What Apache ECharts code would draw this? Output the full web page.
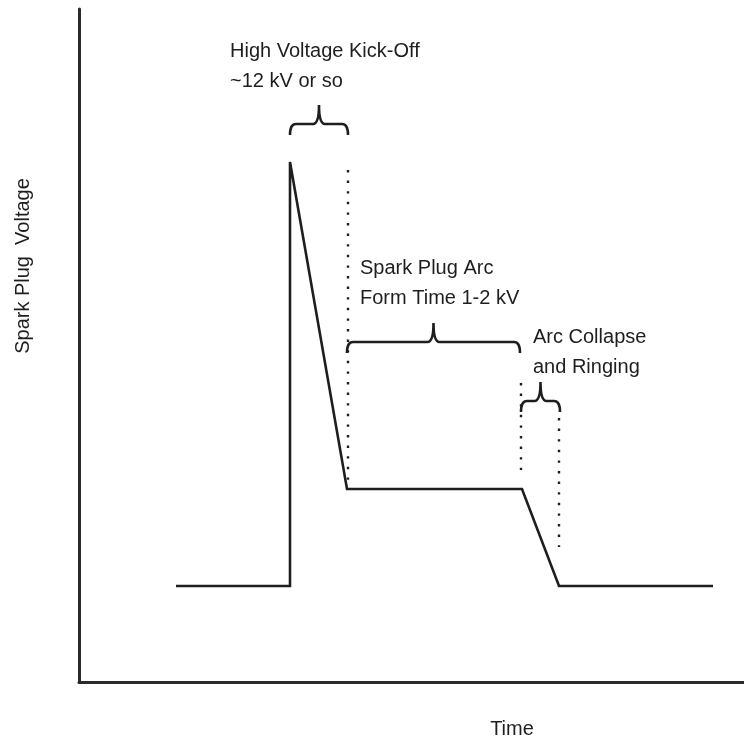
<!DOCTYPE html>
<html>
<head>
<meta charset="utf-8">
<script src="https://cdn.jsdelivr.net/npm/echarts@6/dist/echarts.min.js"></script>
<style>html,body{margin:0;padding:0;background:#fff}#c{width:744px;height:740px}</style>
</head>
<body>
<div id="c"></div>
<script>
// Signal trace (arbitrary time / voltage units)
const signalX = [97, 211, 211, 268, 443, 480, 634];
const signalY = [96, 96, 520, 193, 193, 96, 96];
// Dotted guide lines
const guideX = [269, 442, 480];
const guideTop = [512, 299, 264];
const guideBottom = [197, 212, 135];
// Braces
const braceStart = [211, 268, 442];
const braceEnd = [269, 441, 481];
const braceLevel = [558, 340, 281];
const braceTip = [577, 359, 300];
// Texts
const annotationLines = [
  ['High Voltage Kick-Off', '~12 kV or so'],
  ['Spark Plug Arc', 'Form Time 1-2 kV'],
  ['Arc Collapse', 'and Ringing']
];
const xTitle = 'Time';
const yTitle = 'Spark Plug  Voltage';

const chart = echarts.init(document.getElementById('c'), null, {renderer: 'canvas'});
const INK = '#1e1e1e';
const FONT = '20px "Liberation Sans", Arial, sans-serif';

const signalData = signalX.map((x, i) => [x, signalY[i]]);
const guideData = guideX.map((x, i) => [x, guideTop[i], guideBottom[i]]);
const braceData = braceStart.map((s, i) => [s, braceEnd[i], braceLevel[i], braceTip[i]]);

const annotPos = [[230, 51], [360, 268], [533, 337]];
const graphics = [];
annotationLines.forEach((lines, i) => {
  lines.forEach((t, j) => {
    graphics.push({type: 'text', x: annotPos[i][0], y: annotPos[i][1] + j * 30,
      style: {text: t, font: FONT, fill: INK, textAlign: 'left', textVerticalAlign: 'middle'}});
  });
});
graphics.push({type: 'text', x: 512, y: 729,
  style: {text: xTitle, font: FONT, fill: INK, textAlign: 'center', textVerticalAlign: 'middle'}});
graphics.push({type: 'text', x: 23, y: 266, rotation: Math.PI / 2,
  style: {text: yTitle, font: FONT, fill: INK, textAlign: 'center', textVerticalAlign: 'middle'}});

chart.setOption({
  animation: false,
  backgroundColor: '#fff',
  grid: {left: 79, right: 0, top: 9, bottom: 58},
  xAxis: {type: 'value', min: 0, max: 665,
    axisLine: {show: true, lineStyle: {color: '#2a2a2a', width: 3}},
    axisTick: {show: false}, axisLabel: {show: false}, splitLine: {show: false}},
  yAxis: {type: 'value', min: 0, max: 673,
    axisLine: {show: true, lineStyle: {color: '#2a2a2a', width: 3}},
    axisTick: {show: false}, axisLabel: {show: false}, splitLine: {show: false}},
  graphic: graphics,
  series: [
    {type: 'line', data: signalData, showSymbol: false, symbol: 'none',
      lineStyle: {color: INK, width: 2.6, join: 'miter', miterLimit: 3}},
    {type: 'custom', data: guideData,
      renderItem: function (params, api) {
        const a = api.coord([api.value(0), api.value(1)]);
        const b = api.coord([api.value(0), api.value(2)]);
        return {type: 'line', shape: {x1: a[0], y1: a[1], x2: b[0], y2: b[1]},
          style: {stroke: INK, lineWidth: 2.4, lineDash: [2.4, 8.2], fill: null}};
      }},
    {type: 'custom', data: braceData,
      renderItem: function (params, api) {
        const x0 = api.value(0), x1 = api.value(1);
        const a = api.coord([x0, api.value(2)]);
        const b = api.coord([x1, api.value(2)]);
        const t = api.coord([(x0 + x1) / 2, api.value(3)]);
        const y0 = a[1], h = 11, r = 6;
        const xm = t[0];
        const d = 'M' + a[0] + ' ' + (y0 + h) +
          ' Q' + a[0] + ' ' + y0 + ' ' + (a[0] + r) + ' ' + y0 +
          ' L' + (xm - r) + ' ' + y0 +
          ' Q' + xm + ' ' + y0 + ' ' + xm + ' ' + t[1] +
          ' Q' + xm + ' ' + y0 + ' ' + (xm + r) + ' ' + y0 +
          ' L' + (b[0] - r) + ' ' + y0 +
          ' Q' + b[0] + ' ' + y0 + ' ' + b[0] + ' ' + (y0 + h);
        return {type: 'path', shape: {pathData: d},
          style: {stroke: INK, lineWidth: 2.6, fill: null}};
      }}
  ]
});
</script>
</body>
</html>
